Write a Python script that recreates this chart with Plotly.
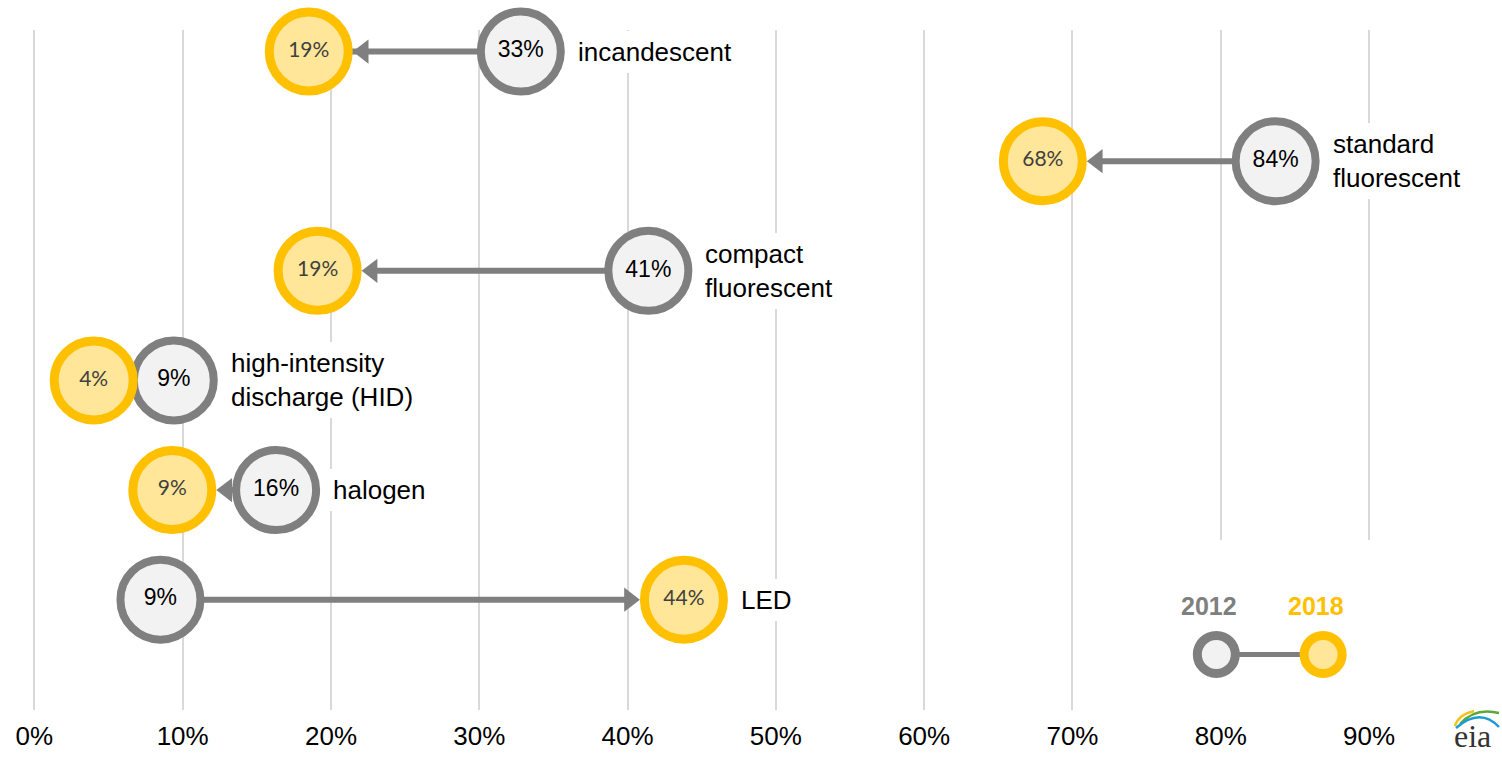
import plotly.graph_objects as go

# ---- data ----
categories = ["incandescent", "standard<br>fluorescent", "compact<br>fluorescent",
              "high-intensity<br>discharge (HID)", "halogen", "LED"]
share_2012 = [0.328, 0.837, 0.414, 0.094, 0.163, 0.085]
share_2018 = [0.185, 0.680, 0.191, 0.040, 0.093, 0.438]
labels_2012 = ["33%", "84%", "41%", "9%", "16%", "9%"]
labels_2018 = ["19%", "68%", "19%", "4%", "9%", "44%"]
tick_vals = [0, 0.1, 0.2, 0.3, 0.4, 0.5, 0.6, 0.7, 0.8, 0.9]
tick_text = ["0%", "10%", "20%", "30%", "40%", "50%", "60%", "70%", "80%", "90%"]
legend_years = ["2012", "2018"]

GRAY = "#7f7f7f"
GRAY_FILL = "#f2f2f2"
GOLD = "#ffc000"
GOLD_FILL = "#ffe699"

rows = list(range(len(categories)))

fig = go.Figure()

# arrows 2012 -> 2018
HEAD = 21
for i in rows:
    fig.add_trace(go.Scatter(
        x=[share_2012[i], share_2018[i]], y=[i, i],
        mode="lines+markers",
        line=dict(color=GRAY, width=6),
        marker=dict(symbol="triangle-up", size=HEAD, color=GRAY, angleref="previous",
                    standoff=44 + HEAD / 2, line=dict(width=0)),
        hoverinfo="skip", cliponaxis=False,
    ))

# 2012 bubbles
fig.add_trace(go.Scatter(
    x=share_2012, y=rows, mode="markers+text",
    marker=dict(size=80, color=GRAY_FILL, line=dict(color=GRAY, width=8)),
    text=labels_2012, textposition="middle center",
    textfont=dict(family="Arial, Liberation Sans, sans-serif", size=23, color="#000000"),
    cliponaxis=False, hoverinfo="skip",
))

# 2018 bubbles
fig.add_trace(go.Scatter(
    x=share_2018, y=rows, mode="markers+text",
    marker=dict(size=79, color=GOLD_FILL, line=dict(color=GOLD, width=9)),
    text=labels_2018, textposition="middle center",
    textfont=dict(family="Lato, Open Sans, sans-serif", size=21, color="#404040"),
    cliponaxis=False, hoverinfo="skip",
))

# category labels (white boxes interrupt gridlines)
for i in rows:
    fig.add_annotation(
        x=max(share_2012[i], share_2018[i]), y=i, xref="x", yref="y",
        text=categories[i], showarrow=False, xanchor="left", yanchor="middle",
        align="left", xshift=51, bgcolor="white", borderpad=6, borderwidth=0,
        font=dict(family="Arial, Liberation Sans, sans-serif", size=26, color="#000000"),
    )

# legend
legend_x = [0.797, 0.869]
legend_y = 5.5
fig.add_shape(type="rect", xref="x", yref="y", x0=0.76, x1=0.95, y0=4.456, y1=6.2,
              fillcolor="white", line=dict(width=0), layer="between")
fig.add_trace(go.Scatter(
    x=legend_x, y=[legend_y, legend_y], mode="lines+markers",
    line=dict(color=GRAY, width=5),
    marker=dict(size=38, color=[GRAY_FILL, GOLD_FILL],
                line=dict(color=[GRAY, GOLD], width=9)),
    cliponaxis=False, hoverinfo="skip",
))
for yr, xx, col in zip(legend_years, [0.792, 0.864], [GRAY, GOLD]):
    fig.add_annotation(x=xx, y=5.058, xref="x", yref="y", text="<b>%s</b>" % yr,
                       showarrow=False,
                       font=dict(family="Arial, Liberation Sans, sans-serif", size=25, color=col))

# eia logo (approximation); page pixel -> paper coordinates
def px(xp):
    return (xp - 20) / 1468.0

def py(yp):
    return (710 - yp) / 680.0

fig.add_annotation(x=px(1472), y=py(756), xref="paper", yref="paper", text="eia",
                   showarrow=False, xanchor="center", yanchor="bottom",
                   font=dict(family="Liberation Serif, DejaVu Serif, serif", size=32, color="#333333"))
for (x0, y0, cx, cy, x1, y1, col) in [
    (1455, 726, 1458, 715, 1474, 711, "#f2c31a"),
    (1460, 724, 1475, 707, 1499, 713, "#5aa83c"),
    (1456, 728, 1480, 707, 1499, 727, "#1a9ad6"),
]:
    fig.add_shape(type="path", xref="paper", yref="paper",
                  path="M %f,%f Q %f,%f %f,%f" % (px(x0), py(y0), px(cx), py(cy), px(x1), py(y1)),
                  line=dict(color=col, width=2.5), layer="above")

fig.update_xaxes(
    range=[-0.0097, 0.9802], tickvals=tick_vals, ticktext=tick_text,
    showgrid=True, gridcolor="#d9d9d9", gridwidth=1.5, automargin=False,
    zeroline=False, showline=False, ticks="", ticklabelstandoff=8,
    tickfont=dict(family="Arial, Liberation Sans, sans-serif", size=26, color="#000000"),
    fixedrange=True,
)
fig.update_yaxes(range=[6.007, -0.197], visible=False, showgrid=False, zeroline=False,
                 automargin=False, fixedrange=True)

fig.update_layout(
    width=1502, height=757, autosize=False,
    margin=dict(l=20, r=14, t=30, b=47, autoexpand=False),
    plot_bgcolor="white", paper_bgcolor="white",
    showlegend=False,
    font=dict(family="Arial, Liberation Sans, sans-serif"),
)

fig.write_html("out.html", config={"displayModeBar": False},
               post_script="document.body.style.margin='0px';document.body.style.overflow='hidden';")
